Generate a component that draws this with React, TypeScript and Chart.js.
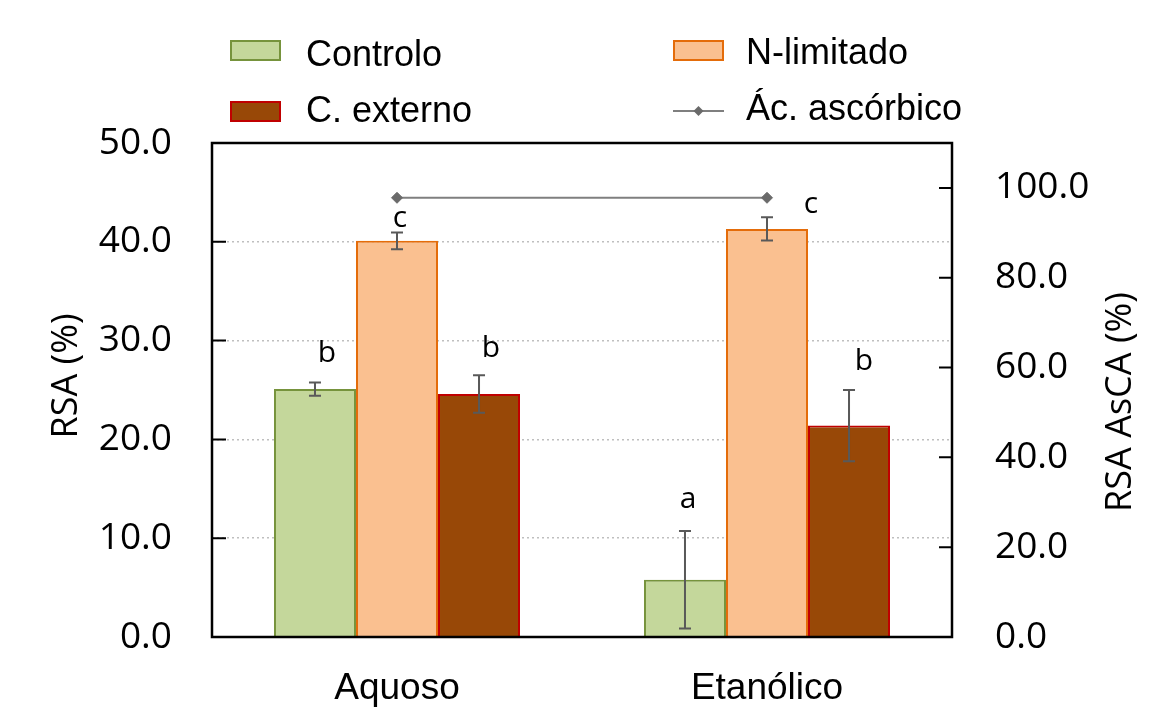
import React, { useEffect, useRef } from "react";
import { Chart, registerables } from "chart.js";

Chart.register(...registerables);

// ---------- data ----------
const categories = ["Aquoso", "Etanólico"];
const seriesNames = ["Controlo", "N-limitado", "C. externo"];
const lineName = "Ác. ascórbico";

const controlo = [25.1, 5.8];
const nLimitado = [40.1, 41.3];
const cExterno = [24.6, 21.4];

const controloErr = [0.67, 4.93];
const nLimitadoErr = [0.85, 1.18];
const cExternoErr = [1.9, 3.6];

const ascorbico = [97.8, 97.8];

const controloLetters = ["b", "a"];
const nLimitadoLetters = ["c", "c"];
const cExternoLetters = ["b", "b"];
// letter baseline heights (left-axis units)
const controloLetterY = [27.8, 13.1];
const nLimitadoLetterY = [41.5, 42.9];
const cExternoLetterY = [28.3, 27.0];

const leftMax = 50;
const leftStep = 10;
const rightMax = 110;
const rightStep = 20;
const rightTickLimit = 100;

// ---------- styles ----------
const fills = ["#C4D79B", "#FAC090", "#984807"];
const borders = ["#76933C", "#E46C0A", "#C00000"];
const lineColor = "#7F7F7F";
const markerColor = "#6A6A6A";
const errColor = "#595959";
// horizontal letter offsets from bar centre (px)
const letterDx = [
  [12, 3],
  [3, 44],
  [12, 15],
];

const values = [controlo, nLimitado, cExterno];
const errs = [controloErr, nLimitadoErr, cExternoErr];
const letters = [controloLetters, nLimitadoLetters, cExternoLetters];
const letterY = [controloLetterY, nLimitadoLetterY, cExternoLetterY];

const W = 1175;
const H = 711;
const AREA_LEFT = 212;
const AREA_RIGHT = 952;
const AREA_TOP = 143;
const AREA_BOTTOM = 637;

const overlay = {
  id: "overlay",
  afterDatasetsDraw(chart: any) {
    const ctx = chart.ctx as CanvasRenderingContext2D;
    const { left, right, top, bottom } = chart.chartArea;
    const y = chart.scales.y;
    const y1 = chart.scales.y1;
    ctx.save();

    // error bars
    ctx.strokeStyle = errColor;
    ctx.lineWidth = 2;
    errs.forEach((errArr, di) => {
      const meta = chart.getDatasetMeta(di);
      meta.data.forEach((bar: any, i: number) => {
        const v = values[di][i];
        const e = errArr[i];
        const x = bar.x;
        const yt = y.getPixelForValue(v + e);
        const yb = y.getPixelForValue(v - e);
        ctx.beginPath();
        ctx.moveTo(x, yt);
        ctx.lineTo(x, yb);
        ctx.moveTo(x - 6, yt);
        ctx.lineTo(x + 6, yt);
        ctx.moveTo(x - 6, yb);
        ctx.lineTo(x + 6, yb);
        ctx.stroke();
      });
    });

    // significance letters
    ctx.fillStyle = "#000";
    ctx.font = "30px 'Open Sans'";
    ctx.textAlign = "center";
    ctx.textBaseline = "alphabetic";
    letters.forEach((arr, di) => {
      const meta = chart.getDatasetMeta(di);
      meta.data.forEach((bar: any, i: number) => {
        ctx.fillText(arr[i], bar.x + letterDx[di][i], y.getPixelForValue(letterY[di][i]));
      });
    });

    // frame
    ctx.strokeStyle = "#000";
    ctx.lineWidth = 2.5;
    ctx.strokeRect(left, top, right - left, bottom - top);

    // inward tick marks
    ctx.lineWidth = 2;
    ctx.beginPath();
    y.ticks.forEach((t: any) => {
      const py = y.getPixelForValue(t.value);
      ctx.moveTo(left, py);
      ctx.lineTo(left + 14, py);
    });
    y1.ticks.forEach((t: any) => {
      const py = y1.getPixelForValue(t.value);
      ctx.moveTo(right, py);
      ctx.lineTo(right - 13, py);
    });
    ctx.stroke();

    // axis titles
    ctx.fillStyle = "#000";
    ctx.font = "36px 'Open Sans'";
    ctx.textAlign = "center";
    ctx.textBaseline = "middle";
    ctx.save();
    ctx.translate(67, 376);
    ctx.rotate(-Math.PI / 2);
    ctx.fillText("RSA (%)", 0, 0);
    ctx.restore();
    ctx.save();
    ctx.translate(1121, 402);
    ctx.rotate(-Math.PI / 2);
    ctx.fillText("RSA AsCA (%)", 0, 0);
    ctx.restore();

    // legend
    const boxW = 51;
    const boxH = 21;
    const legendItems = [
      { x: 230, y: 40, base: 66, kind: 0 },
      { x: 673, y: 40, base: 64, kind: 1 },
      { x: 230, y: 101, base: 122, kind: 2 },
      { x: 673, y: 101, base: 120, kind: 3 },
    ];
    ctx.font = "36px 'Liberation Sans', Arial";
    ctx.textAlign = "left";
    ctx.textBaseline = "alphabetic";
    legendItems.forEach((it) => {
      if (it.kind < 3) {
        ctx.fillStyle = fills[it.kind];
        ctx.fillRect(it.x, it.y, boxW, boxH);
        ctx.strokeStyle = borders[it.kind];
        ctx.lineWidth = 2;
        ctx.strokeRect(it.x + 1, it.y + 1, boxW - 2, boxH - 2);
      } else {
        const cy = 111;
        ctx.strokeStyle = lineColor;
        ctx.lineWidth = 2;
        ctx.beginPath();
        ctx.moveTo(it.x, cy);
        ctx.lineTo(it.x + boxW, cy);
        ctx.stroke();
        const cx = it.x + boxW / 2;
        ctx.fillStyle = markerColor;
        ctx.beginPath();
        ctx.moveTo(cx, cy - 5);
        ctx.lineTo(cx + 5, cy);
        ctx.lineTo(cx, cy + 5);
        ctx.lineTo(cx - 5, cy);
        ctx.closePath();
        ctx.fill();
      }
      const label = it.kind < 3 ? seriesNames[it.kind] : lineName;
      ctx.fillStyle = "#000";
      ctx.fillText(label, it.kind % 2 === 0 ? 306 : 746, it.base);
    });

    ctx.restore();
  },
};

export default function App() {
  const ref = useRef<HTMLCanvasElement | null>(null);

  useEffect(() => {
    document.body.style.margin = "0";
    const canvas = ref.current;
    if (!canvas) return;
    const chart = new Chart(canvas, {
      type: "bar",
      data: {
        labels: categories,
        datasets: [
          ...values.map((vals, i) => ({
            type: "bar" as const,
            label: seriesNames[i],
            data: vals,
            backgroundColor: fills[i],
            borderColor: borders[i],
            borderWidth: 2,
            yAxisID: "y",
            categoryPercentage: 0.665,
            barPercentage: 1,
          })),
          {
            type: "line" as const,
            label: lineName,
            data: ascorbico,
            yAxisID: "y1",
            borderColor: lineColor,
            borderWidth: 2,
            pointStyle: "rectRot",
            pointRadius: 5.5,
            pointBackgroundColor: markerColor,
            pointBorderColor: markerColor,
            pointBorderWidth: 1,
          } as any,
        ],
      },
      options: {
        responsive: false,
        animation: false,
        devicePixelRatio: 1,
        layout: { padding: { top: AREA_TOP, left: 0, right: 0, bottom: 0 } },
        plugins: {
          legend: { display: false },
          tooltip: { enabled: false },
          title: { display: false },
        },
        scales: {
          x: {
            grid: { display: false, drawTicks: false },
            border: { display: false },
            ticks: {
              color: "#000",
              padding: 30,
              font: { family: "'Liberation Sans', Arial", size: 37 },
            },
            afterFit: (s: any) => {
              s.height = H - AREA_BOTTOM;
            },
          },
          y: {
            position: "left",
            min: 0,
            max: leftMax,
            ticks: {
              stepSize: leftStep,
              color: "#000",
              padding: 40,
              font: { family: "'Open Sans'", size: 37 },
              callback: (v: any) => Number(v).toFixed(1),
            },
            grid: {
              color: (c: any) =>
                c.tick && (c.tick.value === 0 || c.tick.value === leftMax) ? "rgba(0,0,0,0)" : "#BFBFBF",
              lineWidth: 1.5,
              drawTicks: false,
            },
            border: { display: false, dash: [2, 3] },
            afterFit: (s: any) => {
              s.width = AREA_LEFT;
            },
          },
          y1: {
            position: "right",
            min: 0,
            max: rightMax,
            ticks: {
              stepSize: rightStep,
              color: "#000",
              padding: 43,
              font: { family: "'Open Sans'", size: 37 },
              callback: (v: any) => Number(v).toFixed(1),
            },
            afterBuildTicks: (s: any) => {
              s.ticks = s.ticks.filter((t: any) => t.value <= rightTickLimit);
            },
            grid: { display: false, drawTicks: false },
            border: { display: false },
            afterFit: (s: any) => {
              s.width = W - AREA_RIGHT;
            },
          },
        },
      } as any,
      plugins: [overlay],
    });
    return () => chart.destroy();
  }, []);

  return (
    <div style={{ width: W, height: H, background: "#fff" }}>
      <canvas ref={ref} width={W} height={H} style={{ width: W, height: H, display: "block" }} />
    </div>
  );
}
